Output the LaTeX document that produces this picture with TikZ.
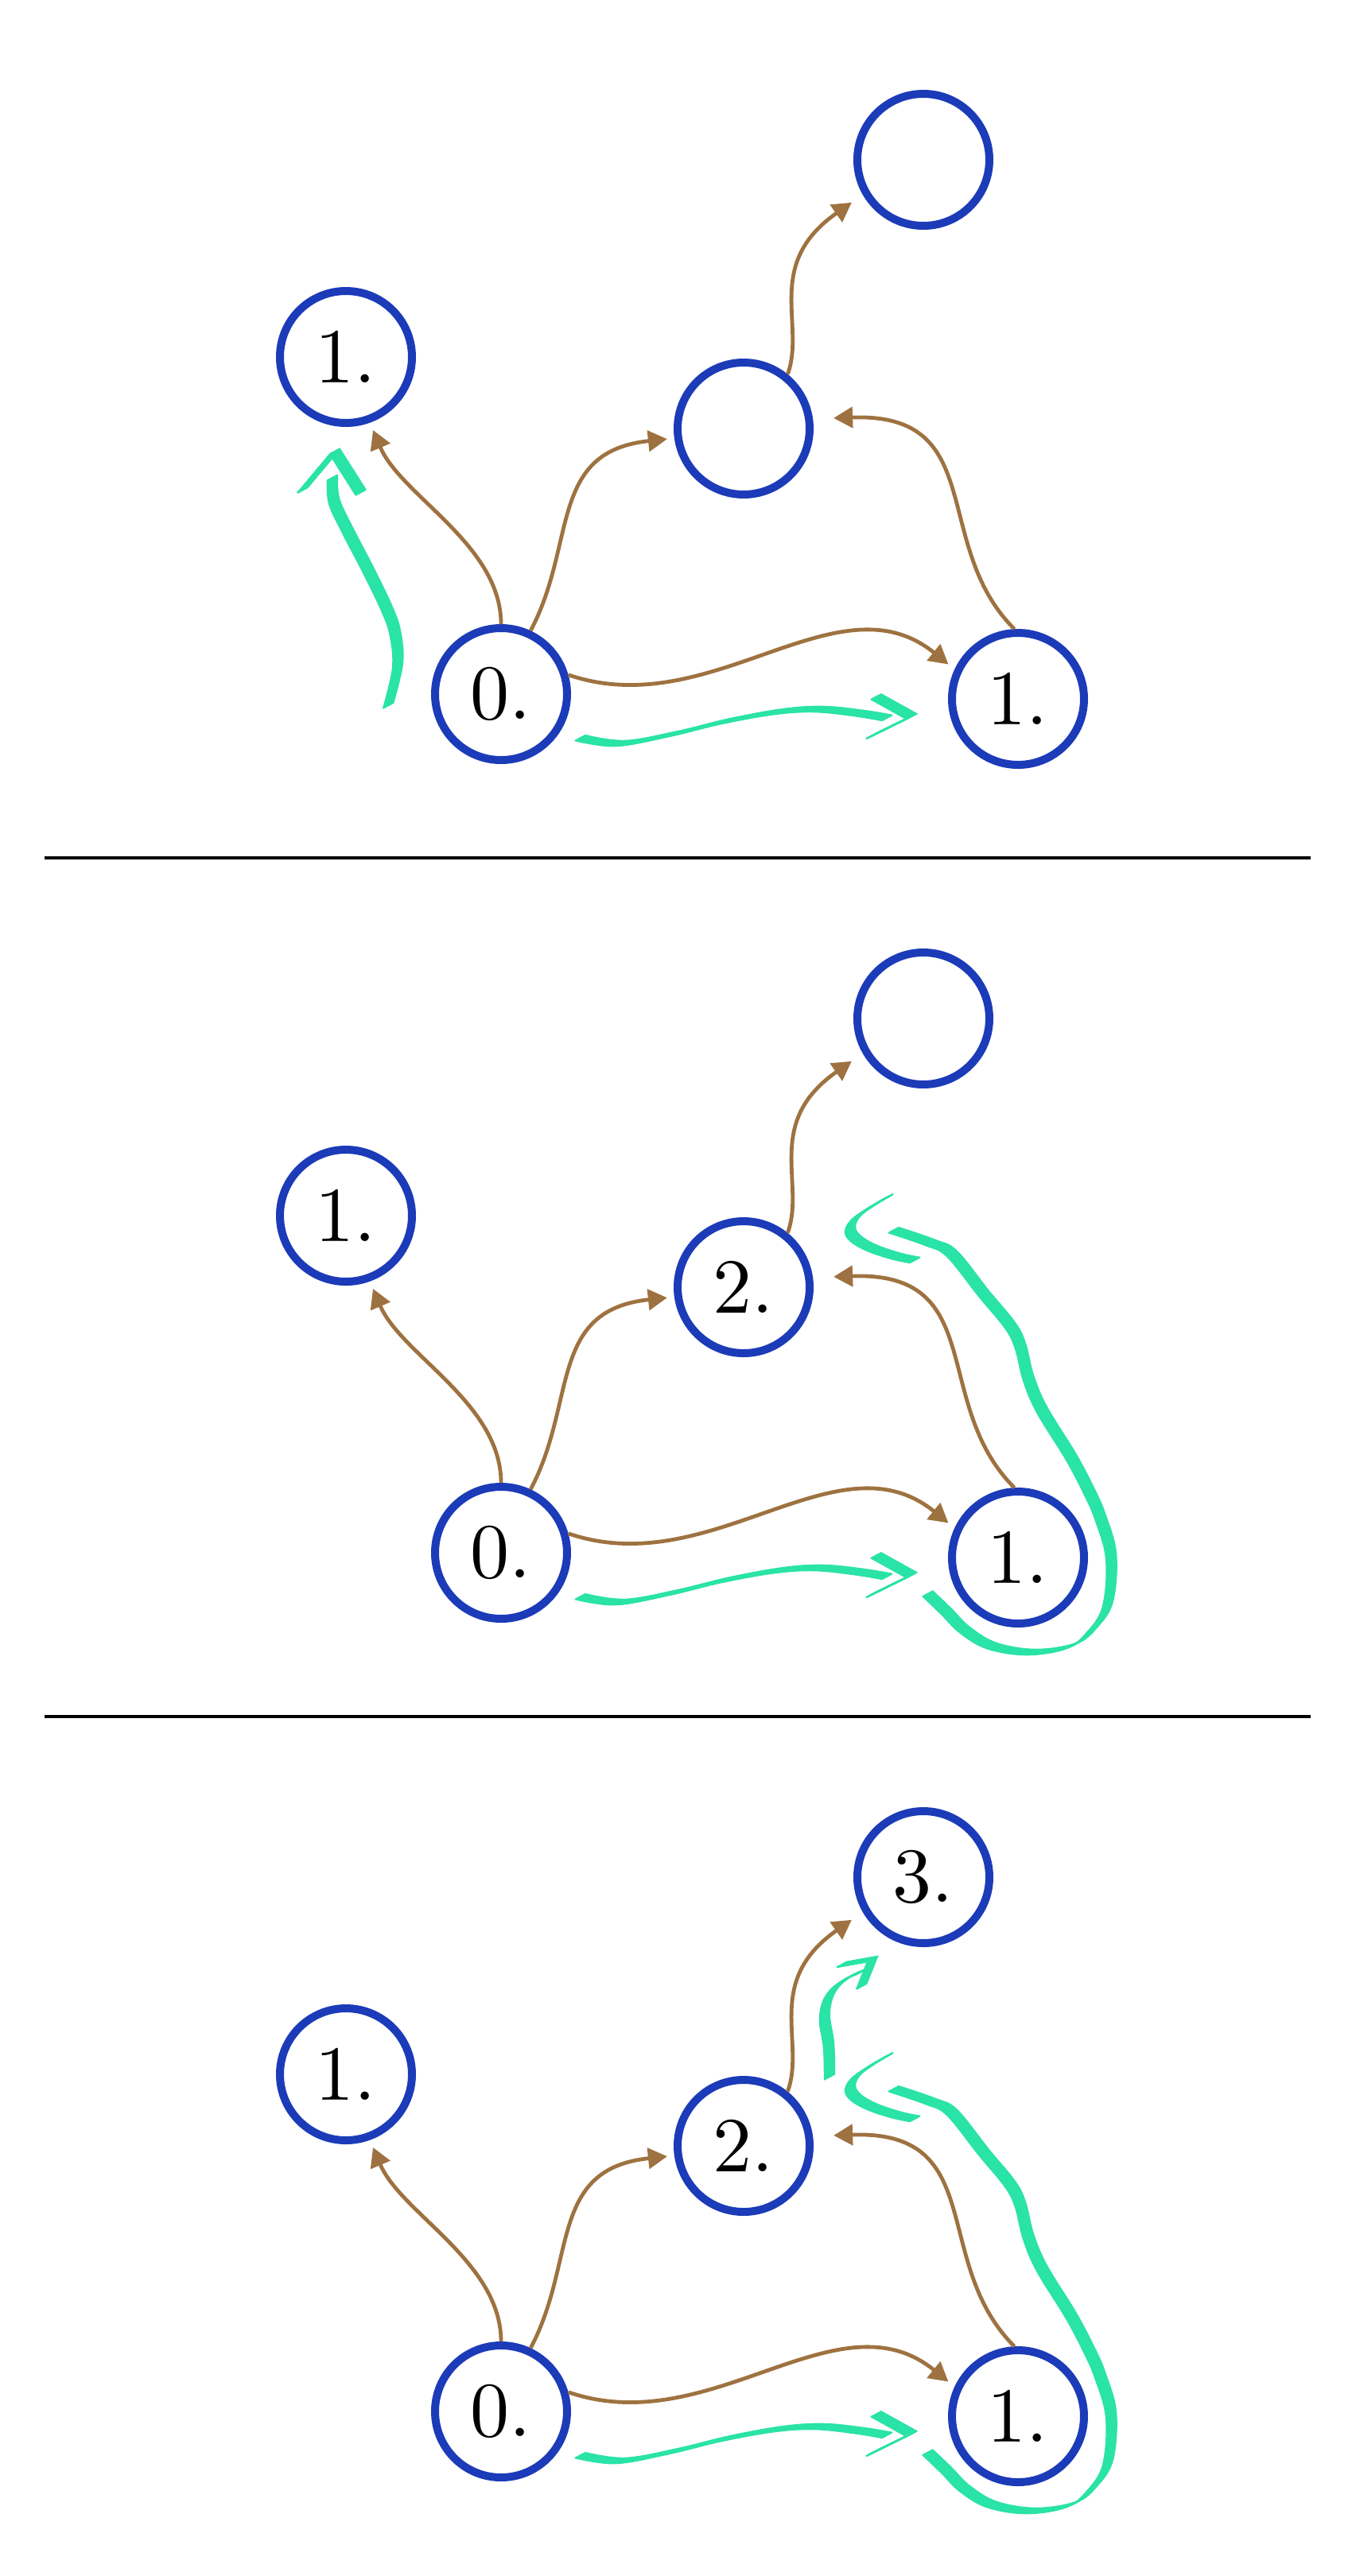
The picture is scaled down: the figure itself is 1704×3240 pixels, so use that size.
\documentclass[tikz,border=0pt]{standalone}
\usepackage{fontspec}
\newfontfamily\labelfont{lmroman10-regular.otf}
\usetikzlibrary{arrows.meta}

\definecolor{ringblue}{RGB}{27,59,184}
\definecolor{edgebrown}{RGB}{158,114,64}
\definecolor{brushgreen}{RGB}{42,227,166}

\tikzset{
  state/.style={circle, draw=ringblue, line width=5pt, minimum size=83pt,
    inner sep=0pt, font=\labelfont\fontsize{49}{58}\selectfont},
  edge/.style={draw=edgebrown, line width=2.4pt,
    -{Triangle[length=12pt,width=13pt]}},
  brushline/.style={draw=brushgreen, line width=1pt},
  rule/.style={draw=black, line width=2pt},
}

% a flat-nib pen stroke: the same path repeated along the nib
\newcommand\brushstroke[2][smooth, tension=0.6]{%
  \foreach \k in {-7,...,7}{%
    \pgfmathsetmacro\sx{0.883*(\k)}%
    \pgfmathsetmacro\sy{-0.469*(\k)}%
    \draw[brushline, shift={(\sx,\sy)}] plot[#1] coordinates {#2};
  }}

% one graph: #1 name suffix, #2 label of the middle node, #3 label of the top node
\newcommand\graphpanel[3]{%
  \node[state] (z#1) at (630,873) {0.};
  \node[state] (l#1) at (435,449) {1.};
  \node[state] (r#1) at (1280,879) {1.};
  \node[state] (m#1) at (935,539) {#2};
  \node[state] (t#1) at (1161,201) {#3};
  \draw[edge, shorten >=5pt] (z#1.90) to[out=90, in=-67, looseness=0.85] (l#1.-70);
  \draw[edge, shorten >=4.5pt] (z#1.65) to[out=62, in=186, out looseness=1.05, in looseness=1.35] (m#1.188);
  \draw[edge, shorten >=8.5pt] (m#1.51) to[out=70, in=215, out looseness=0.7, in looseness=1.6] (t#1.210);
  \draw[edge, shorten >=13pt] (r#1.93) to[out=135, in=2, out looseness=1.05, in looseness=1.55] (m#1.8);
  \draw[edge, shorten >=5pt] (z#1.16) to[out=-19, in=141] (r#1.155);
}

% green strokes
\newcommand\strokeleft{%
  \brushstroke{(488,888) (500,837) (497,797) (487,767) (463,717) (437,667) (420,630) (418,600)}
  \brushstroke[sharp plot]{(380,617) (421,568) (454,620)}}
\newcommand\strokelow{%
  \brushstroke{(729,928) (780,935) (847,923) (913,907) (980,895) (1030,892) (1080,897) (1116,903)}
  \brushstroke[sharp plot]{(1101,876) (1146,901) (1095,926)}}
\newcommand\strokeloop{%
  \brushstroke{(1166,924) (1190,947) (1213,970) (1247,990) (1297,998) (1347,990) (1373,970)
    (1393,937) (1397,877) (1383,827) (1370,797) (1347,753) (1310,693) (1293,653) (1283,613)
    (1270,587) (1237,547) (1197,497) (1170,483) (1123,467)}
  \brushstroke{(1117,425) (1095,438) (1076,452) (1069,466) (1076,478) (1097,490) (1127,500) (1151,505)}}
\newcommand\strokeup{%
  \brushstroke{(1043,453) (1042,413) (1037,380) (1040,357) (1050,340) (1067,327) (1083,320)}
  \brushstroke[sharp plot]{(1058,311) (1097,304) (1083,339)}}

\begin{document}
\begin{tikzpicture}[x=0.5pt, y=-0.5pt]
  \useasboundingbox (0,0) rectangle (1704,3240);

  \begin{scope}
    \graphpanel{a}{}{}
    \strokeleft
    \strokelow
  \end{scope}

  \coordinate (ruleAl) at (56,1079);
  \coordinate (ruleAr) at (1648,1079);
  \draw[rule] (ruleAl) -- (ruleAr);

  \begin{scope}[shift={(0,1080)}]
    \graphpanel{b}{2.}{}
    \strokelow
    \strokeloop
  \end{scope}

  \coordinate (ruleBl) at (56,2159);
  \coordinate (ruleBr) at (1648,2159);
  \draw[rule] (ruleBl) -- (ruleBr);

  \begin{scope}[shift={(0,2160)}]
    \graphpanel{c}{2.}{3.}
    \strokelow
    \strokeloop
    \strokeup
  \end{scope}
\end{tikzpicture}
\end{document}
